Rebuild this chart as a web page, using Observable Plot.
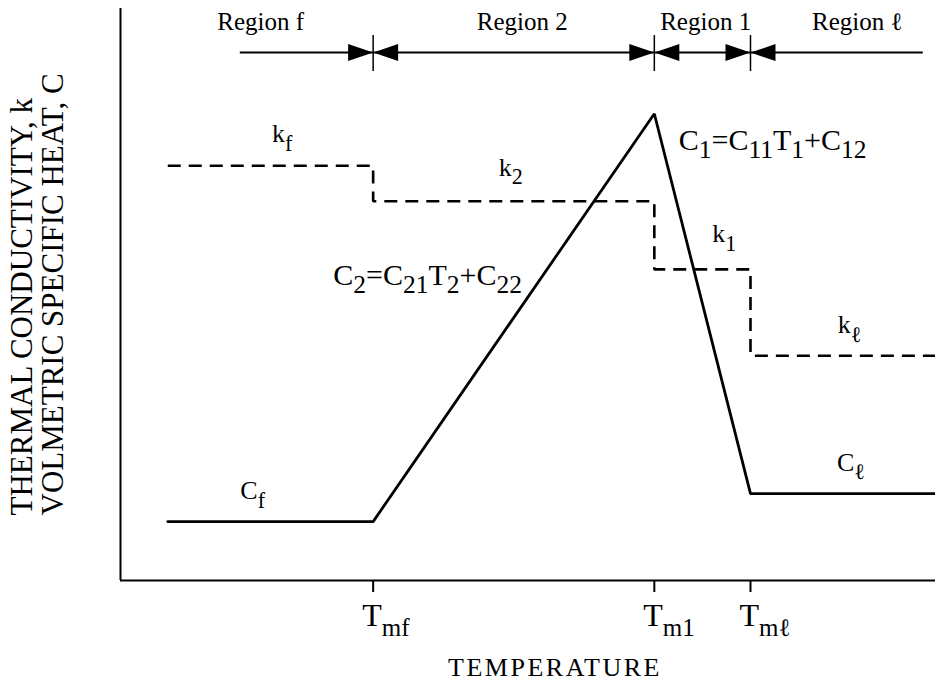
<!DOCTYPE html>
<html>
<head>
<meta charset="utf-8">
<script src="https://cdn.jsdelivr.net/npm/d3@7"></script>
<script src="https://cdn.jsdelivr.net/npm/@observablehq/plot@0.6"></script>
<style>
  html, body { margin: 0; padding: 0; background: #fff; }
  #chart svg { display: block; }
</style>
</head>
<body>
<div id="chart"></div>
<script>
// Temperature breakpoints (arbitrary units): start, T_mf, T_m1, T_mℓ, end
const temps = [5.8, 31.0, 65.5, 77.3, 100];
// Volumetric specific heat C at each breakpoint (piecewise linear)
const heat = [10.3, 10.3, 81.6, 15.2, 15.2];
// Thermal conductivity k, constant within each region (step at each breakpoint)
const conductivity = [72.5, 66.3, 54.4, 39.3, 39.3];

// Phase-change temperatures marked on the temperature axis
const tickTemps = [31.0, 65.5, 77.3];
const tickLabels = ["T_{mf}", "T_{m1}", "T_{mℓ}"];

// Region band drawn above the curves
const regionNames = ["Region f", "Region 2", "Region 1", "Region ℓ"];
const regionLabelX = [17.2, 49.3, 71.8, 90.4];
const regionLabelY = 96.2;
const regionArrowY = 92.3;
const regionArrowSpan = [14.7, 98.5];

// Curve labels (left edge, baseline) in data units
const curveLabelText = ["C_{f}", "k_{f}", "k_{2}", "k_{1}", "k_{ℓ}", "C_{ℓ}"];
const curveLabelX = [14.7, 18.6, 46.4, 72.6, 88.0, 87.9];
const curveLabelY = [14.2, 76.6, 70.8, 59.1, 43.2, 19.2];

// Linear relations for C in regions 1 and 2
const equationText = ["C_{1}=C_{11}T_{1}+C_{12}", "C_{2}=C_{21}T_{2}+C_{22}"];
const equationX = [68.5, 26.1];
const equationY = [75.2, 51.6];

const yTitle = "THERMAL CONDUCTIVITY, k\nVOLMETRIC SPECIFIC HEAT, C";
const xTitle = "TEMPERATURE";

const serif = "'Liberation Serif', 'Times New Roman', Times, serif";

const points = temps.map((t, i) => ({t, c: heat[i], k: conductivity[i]}));
const ticks = tickTemps.map((t, i) => ({t, label: tickLabels[i]}));
const regions = regionNames.map((name, i) => ({name, x: regionLabelX[i]}));
const curveLabels = curveLabelText.map((text, i) => ({text, x: curveLabelX[i], y: curveLabelY[i]}));
const equations = equationText.map((text, i) => ({text, x: equationX[i], y: equationY[i]}));

// Filled wedge whose tip sits at the dot position, pointing right
const wedge = {
  draw(context, size) {
    const r = Math.sqrt(size / Math.PI);
    context.moveTo(0, 0);
    context.lineTo(-2.5 * r, -0.85 * r);
    context.lineTo(-2.5 * r, 0.85 * r);
    context.closePath();
  }
};

const chart = Plot.plot({
  width: 935,
  height: 687,
  marginLeft: 120,
  marginRight: 0,
  marginTop: 8,
  marginBottom: 107,
  x: {domain: [0, 100], axis: null},
  y: {domain: [0, 100], axis: null},
  style: {fontFamily: serif, background: "white", color: "black"},
  marks: [
    // frame: vertical and horizontal axis lines
    Plot.ruleX([0], {strokeWidth: 2}),
    Plot.ruleY([0], {strokeWidth: 2}),
    // tick marks at the phase-change temperatures
    Plot.axisX({ticks: tickTemps, tickSize: 12, tickFormat: () => "", strokeWidth: 2, label: null}),
    Plot.text(ticks, {
      x: "t", text: "label", frameAnchor: "bottom", dy: 45, dx: -11,
      textAnchor: "start", lineAnchor: "bottom", fontSize: 32
    }),
    Plot.text([xTitle], {
      frameAnchor: "bottom", dx: 27, dy: 95, lineAnchor: "bottom", fontSize: 26
    }),
    Plot.text([yTitle], {
      frameAnchor: "left", rotate: -90, textAnchor: "start", lineAnchor: "bottom",
      lineHeight: 0.97, fontSize: 31, dx: -58, dy: 221
    }),
    // conductivity (dashed steps) and specific heat (solid)
    Plot.line(points, {x: "t", y: "k", curve: "step-after", strokeWidth: 2.6, strokeDasharray: "13,8", strokeLinejoin: "miter", strokeLinecap: "butt"}),
    Plot.line(points, {x: "t", y: "c", strokeWidth: 2.8, strokeLinejoin: "miter"}),
    // region band with boundary arrows
    Plot.ruleY([regionArrowY], {x1: regionArrowSpan[0], x2: regionArrowSpan[1], strokeWidth: 2}),
    Plot.ruleX(tickTemps, {x: d => d, y1: regionArrowY, y2: regionArrowY, insetTop: -17, insetBottom: -19, strokeWidth: 1.5}),
    Plot.dot(tickTemps, {x: d => d, y: regionArrowY, symbol: wedge, r: 10, fill: "black", stroke: null}),
    Plot.dot(tickTemps, {x: d => d, y: regionArrowY, symbol: wedge, r: 10, rotate: 180, fill: "black", stroke: null}),
    Plot.text(regions, {x: "x", y: regionLabelY, text: "name", lineAnchor: "bottom", fontSize: 25}),
    // labels on the curves
    Plot.text(curveLabels, {x: "x", y: "y", text: "text", textAnchor: "start", lineAnchor: "bottom", fontSize: 26}),
    Plot.text(equations, {x: "x", y: "y", text: "text", textAnchor: "start", lineAnchor: "bottom", fontSize: 30})
  ]
});

document.getElementById("chart").appendChild(chart);

// Turn "_{...}" runs into lowered, smaller tspans
function lowerSubscripts(text, ratio, shiftEm) {
  const src = text.textContent;
  const size = parseFloat(getComputedStyle(text).fontSize) || 26;
  const shift = shiftEm * size;
  const parts = src.split(/(_\{[^}]*\})/).filter(s => s.length);
  while (text.firstChild) text.removeChild(text.firstChild);
  let lowered = false;
  for (const p of parts) {
    const sub = p.startsWith("_{");
    const ts = document.createElementNS("http://www.w3.org/2000/svg", "tspan");
    ts.textContent = sub ? p.slice(2, -1) : p;
    if (sub) {
      ts.setAttribute("font-size", (size * ratio).toFixed(1));
      if (!lowered) ts.setAttribute("dy", shift.toFixed(1));
      lowered = true;
    } else if (lowered) {
      ts.setAttribute("dy", (-shift).toFixed(1));
      lowered = false;
    }
    text.appendChild(ts);
  }
}

chart.querySelectorAll("text").forEach(text => {
  const s = text.textContent;
  if (s === xTitle) { text.setAttribute("letter-spacing", "2.5"); return; }
  if (!s.includes("_{")) return;
  if (tickLabels.includes(s)) lowerSubscripts(text, 0.78, 0.32);
  else if (equationText.includes(s)) lowerSubscripts(text, 0.85, 0.24);
  else lowerSubscripts(text, 0.85, 0.32);
});
</script>
</body>
</html>
